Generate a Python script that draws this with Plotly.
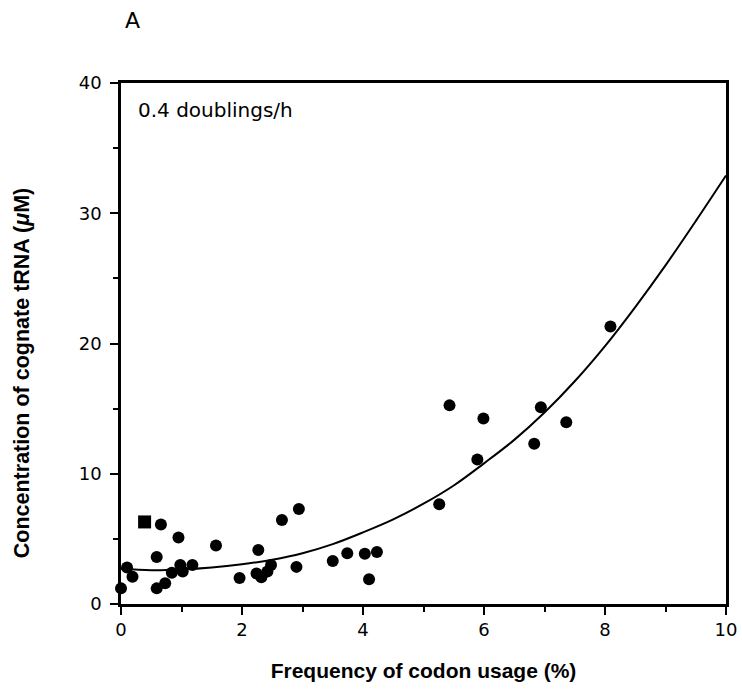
import plotly.graph_objects as go

# Measured tRNA concentrations vs. codon usage frequency
codon_freq = [0.0, 0.10, 0.19, 0.66, 0.59, 0.59, 0.73, 0.84, 0.95, 0.98, 1.02, 1.18,
              1.57, 1.96, 2.27, 2.24, 2.32, 2.42, 2.48, 2.66, 2.94, 2.90, 3.50, 3.74,
              4.03, 4.10, 4.23, 5.26, 5.43, 5.99, 5.89, 6.94, 6.83, 7.36, 8.09]
trna_conc = [1.2, 2.8, 2.1, 6.1, 3.6, 1.2, 1.6, 2.4, 5.1, 3.0, 2.5, 3.0,
             4.5, 2.0, 4.15, 2.35, 2.05, 2.5, 3.0, 6.45, 7.3, 2.85, 3.3, 3.9,
             3.85, 1.9, 4.0, 7.65, 15.25, 14.25, 11.1, 15.1, 12.3, 13.95, 21.3]

# Separately marked codon (square symbol)
special_freq = [0.39]
special_conc = [6.3]

# Fitted trend curve
fit_x = [0, 0.5, 1, 1.5, 2, 2.5, 3, 3.5, 4, 4.5, 5, 5.5, 6, 6.5, 7, 7.5, 8, 8.5, 9, 9.5, 10]
fit_y = [2.7, 2.6, 2.65, 2.8, 3.05, 3.4, 3.9, 4.6, 5.5, 6.5, 7.7, 9.1, 10.8, 12.6,
         14.7, 17.1, 19.8, 22.8, 26.0, 29.4, 32.9]

x_ticks = [0, 2, 4, 6, 8, 10]
y_ticks = [0, 10, 20, 30, 40]

SANS = "DejaVu Sans, sans-serif"
BOLD = "Liberation Sans, Arial, sans-serif"

fig = go.Figure()
fig.add_trace(go.Scatter(
    x=fit_x, y=fit_y, mode="lines",
    line=dict(color="black", width=2, shape="spline", smoothing=1.0),
    hoverinfo="skip", showlegend=False, cliponaxis=False,
))
fig.add_trace(go.Scatter(
    x=codon_freq, y=trna_conc, mode="markers",
    marker=dict(symbol="circle", size=12, color="black"),
    showlegend=False, cliponaxis=False,
))
fig.add_trace(go.Scatter(
    x=special_freq, y=special_conc, mode="markers",
    marker=dict(symbol="square", size=13, color="black"),
    showlegend=False, cliponaxis=False,
))

axis_common = dict(
    showline=True, linecolor="black", linewidth=2.5, mirror=True,
    ticks="outside", ticklen=8, tickwidth=2, tickcolor="black",
    showgrid=False, zeroline=False, automargin=False,
    tickfont=dict(family=SANS, size=18, color="black"),
)

fig.update_xaxes(
    range=[0, 10], tickvals=x_ticks,
    minor=dict(dtick=1, ticks="outside", ticklen=5, tickwidth=1.5, tickcolor="black"),
    title=dict(text="<b>Frequency of codon usage (%)</b>", standoff=24,
               font=dict(family=BOLD, size=21, color="black")),
    **axis_common,
)
fig.update_yaxes(
    range=[0, 40], tickvals=y_ticks, ticklabelstandoff=5,
    minor=dict(dtick=5, ticks="outside", ticklen=5, tickwidth=1.5, tickcolor="black"),
    **axis_common,
)

# Vertical axis title, placed as a rotated annotation
fig.add_annotation(
    x=-0.1636, y=0.443, xref="paper", yref="paper", xanchor="center", yanchor="middle",
    textangle=-90, showarrow=False,
    text="<b>Concentration of cognate tRNA (<i>μ</i>M)</b>",
    font=dict(family=BOLD, size=21.5, color="black"),
)
fig.add_annotation(
    x=0.025, y=0.975, xref="paper", yref="paper", xanchor="left", yanchor="top",
    text="0.4 doublings/h", showarrow=False,
    font=dict(family=SANS, size=20, color="black"),
)
fig.add_annotation(
    x=0.0, y=1.12, xref="paper", yref="paper", xanchor="left", yanchor="middle",
    xshift=2, text="A", showarrow=False,
    font=dict(family=SANS, size=22, color="black"),
)

fig.update_layout(
    width=742, height=691,
    margin=dict(l=121, r=16, t=83, b=87),
    paper_bgcolor="white", plot_bgcolor="white",
)

fig.write_html("out.html")
